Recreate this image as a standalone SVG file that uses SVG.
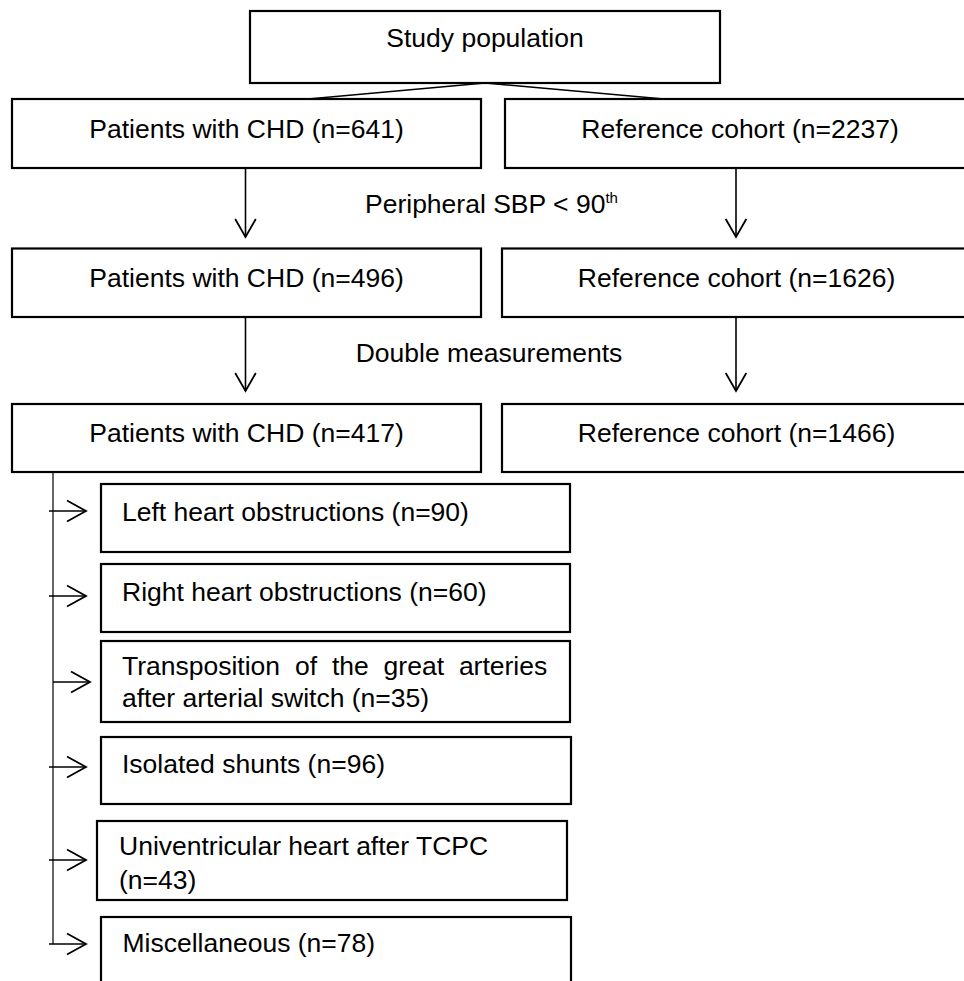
<svg xmlns="http://www.w3.org/2000/svg" width="964" height="981" viewBox="0 0 964 981">
<style>
.box{fill:#fff;stroke:#000;stroke-width:2.2}
.t{font-family:"Liberation Sans",Arial,sans-serif;font-size:26.5px;fill:#000}
.c{text-anchor:middle}
.ln{stroke:#000;stroke-width:1.6;fill:none}
.thin{stroke:#000;stroke-width:1.2;fill:none}
</style>
<defs>
<marker id="ah" markerUnits="userSpaceOnUse" viewBox="-20 -12 22 24" refX="0" refY="0" markerWidth="22" markerHeight="24" orient="auto">
<path d="M-19,-10.5 L0,0 L-19,10.5" fill="none" stroke="#000" stroke-width="1.8"/>
</marker>
<marker id="av" markerUnits="userSpaceOnUse" viewBox="-20 -13 22 26" refX="0" refY="0" markerWidth="22" markerHeight="26" orient="auto">
<path d="M-18,-10.3 L0,0 L-18,10.3" fill="none" stroke="#000" stroke-width="1.8"/>
</marker>
</defs>
<g id="connectors">
<line class="ln" x1="485" y1="83" x2="308" y2="99"/>
<line class="ln" x1="485" y1="83" x2="664" y2="99"/>
<line class="ln" x1="245.5" y1="168" x2="245.5" y2="237" marker-end="url(#av)"/>
<line class="ln" x1="736" y1="168" x2="736" y2="237" marker-end="url(#av)"/>
<line class="ln" x1="245.5" y1="317" x2="245.5" y2="391" marker-end="url(#av)"/>
<line class="ln" x1="736" y1="317" x2="736" y2="391" marker-end="url(#av)"/>
<line class="thin" x1="53" y1="472" x2="53" y2="944"/>
<line class="ln" x1="49" y1="511" x2="86" y2="511" marker-end="url(#ah)"/>
<line class="ln" x1="49" y1="596" x2="86" y2="596" marker-end="url(#ah)"/>
<line class="ln" x1="53" y1="682" x2="90" y2="682" marker-end="url(#ah)"/>
<line class="ln" x1="49" y1="767" x2="86" y2="767" marker-end="url(#ah)"/>
<line class="ln" x1="49" y1="860" x2="86" y2="860" marker-end="url(#ah)"/>
<line class="ln" x1="49" y1="944" x2="86" y2="944" marker-end="url(#ah)"/>
</g>
<g id="labels">
<text class="t" x="365" y="213">Peripheral SBP &lt; 90<tspan font-size="15" dy="-10">th</tspan></text>
<text class="t c" x="489" y="362">Double measurements</text>
</g>
<g id="study">
<rect class="box" x="250" y="11" width="470" height="72"/>
<text class="t c" x="485" y="47">Study population</text>
</g>
<g id="chd641">
<rect class="box" x="12" y="99" width="469" height="69"/>
<text class="t c" x="246.5" y="138">Patients with CHD (n=641)</text>
</g>
<g id="ref2237">
<rect class="box" x="505" y="99" width="480" height="69"/>
<text class="t c" x="740" y="138">Reference cohort (n=2237)</text>
</g>
<g id="chd496">
<rect class="box" x="12" y="248.5" width="469" height="68.5"/>
<text class="t c" x="246.5" y="287">Patients with CHD (n=496)</text>
</g>
<g id="ref1626">
<rect class="box" x="502" y="248.5" width="480" height="68.5"/>
<text class="t c" x="736.5" y="287">Reference cohort (n=1626)</text>
</g>
<g id="chd417">
<rect class="box" x="12" y="404" width="469" height="68"/>
<text class="t c" x="246.5" y="442">Patients with CHD (n=417)</text>
</g>
<g id="ref1466">
<rect class="box" x="502" y="404" width="480" height="68"/>
<text class="t c" x="736.5" y="442">Reference cohort (n=1466)</text>
</g>
<g id="left">
<rect class="box" x="101" y="484" width="469" height="68"/>
<text class="t" x="122" y="521">Left heart obstructions (n=90)</text>
</g>
<g id="right">
<rect class="box" x="101" y="564" width="469" height="68"/>
<text class="t" x="122" y="601">Right heart obstructions (n=60)</text>
</g>
<g id="tga">
<rect class="box" x="101" y="641" width="469" height="81"/>
<text class="t" x="122" y="675" word-spacing="7.5">Transposition of the great arteries</text>
<text class="t" x="122" y="707">after arterial switch (n=35)</text>
</g>
<g id="shunts">
<rect class="box" x="101" y="737" width="470" height="67"/>
<text class="t" x="122" y="773">Isolated shunts (n=96)</text>
</g>
<g id="uvh">
<rect class="box" x="97" y="821" width="470" height="79"/>
<text class="t" x="119" y="855">Univentricular heart after TCPC</text>
<text class="t" x="119" y="889">(n=43)</text>
</g>
<g id="misc">
<rect class="box" x="101" y="917" width="470" height="80"/>
<text class="t" x="122.5" y="952">Miscellaneous (n=78)</text>
</g>
</svg>
